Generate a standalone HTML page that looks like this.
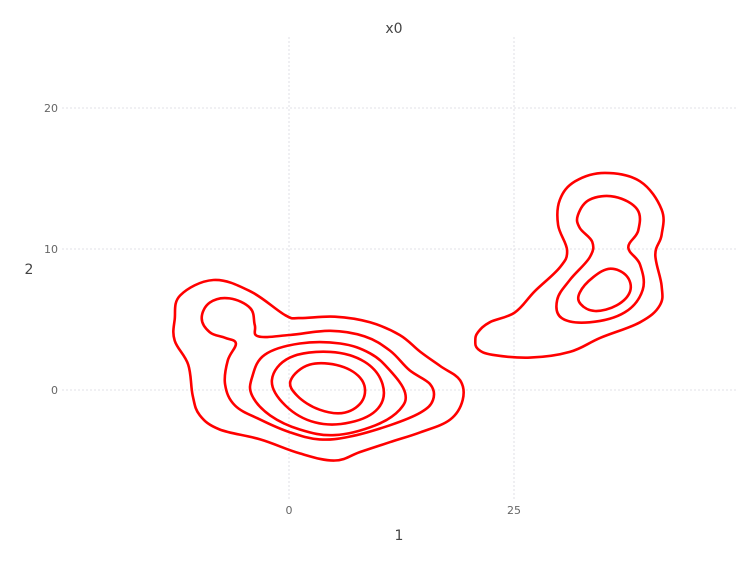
<!DOCTYPE html>
<html><head><meta charset="utf-8"><style>
html,body{margin:0;padding:0;background:#fff;}
svg text{font-family:"DejaVu Sans","Liberation Sans",sans-serif;}
</style></head><body>
<svg id="chart" width="756" height="567" xmlns="http://www.w3.org/2000/svg">
<g id="grid"></g>
<g id="ticks"></g>
<g id="contours"></g>
<text x="394" y="33" font-size="14" fill="#444" text-anchor="middle">x0</text>
<text x="29" y="274" font-size="14" fill="#444" text-anchor="middle">2</text>
<text x="399" y="540" font-size="14" fill="#444" text-anchor="middle">1</text>
</svg>
<script>
const xTicks=[0,25];
const yTicks=[0,10,20];
const contourA=[[-12.7,5.0],[-12.1,6.7],[-8.4,7.8],[-4.3,7.0],[-0.4,5.3],[1.2,5.1],[5.1,5.2],[9.0,4.8],[12.3,3.9],[14.6,2.7],[16.8,1.7],[19.0,0.7],[19.3,-0.7],[17.9,-2.1],[14.6,-3.0],[11.2,-3.7],[7.9,-4.4],[5.1,-5.0],[1.2,-4.5],[-3.2,-3.5],[-7.7,-2.8],[-9.9,-1.8],[-10.7,-0.4],[-11.2,1.8],[-12.7,3.5]];
const contourB=[[-9.7,5.1],[-8.8,6.2],[-6.6,6.5],[-4.3,5.8],[-3.8,4.6],[-3.4,3.8],[0.1,3.9],[4.6,4.2],[8.4,3.8],[11.2,2.8],[13.4,1.4],[15.7,0.4],[16.0,-0.7],[14.6,-1.6],[11.2,-2.5],[6.8,-3.3],[3.4,-3.5],[0.1,-3.0],[-3.2,-2.1],[-6.0,-1.1],[-7.1,0.4],[-6.8,2.1],[-5.9,3.3],[-7.1,3.7],[-8.8,4.1]];
const contourC=[[-4.1,0.9],[-2.7,2.5],[1.2,3.3],[5.7,3.3],[9.0,2.6],[11.2,1.4],[12.9,-0.2],[12.3,-1.4],[9.6,-2.5],[5.1,-3.2],[1.2,-2.8],[-2.1,-1.8],[-4.1,-0.4]];
const contourD=[[-1.9,0.7],[0.1,2.3],[4.6,2.7],[8.4,2.0],[10.4,0.4],[9.9,-1.3],[6.8,-2.3],[2.9,-2.3],[-0.4,-1.1]];
const contourE=[[0.2,0.7],[2.3,1.8],[5.7,1.7],[8.1,0.7],[8.2,-0.7],[6.2,-1.6],[3.4,-1.4],[0.9,-0.4]];
const contourF=[[21.0,4.1],[22.3,4.8],[25.1,5.5],[27.3,7.0],[30.1,8.7],[30.9,9.9],[29.9,11.7],[30.1,13.5],[31.8,14.8],[35.1,15.4],[39.0,14.8],[41.4,12.8],[41.4,11.0],[40.7,9.6],[41.4,7.4],[41.2,6.0],[39.0,4.8],[34.6,3.7],[31.2,2.7],[26.8,2.3],[22.6,2.5],[21.0,2.9],[20.7,3.5]];
const contourG=[[32.1,12.4],[33.4,13.5],[36.2,13.7],[38.7,12.8],[38.8,11.3],[37.7,10.1],[39.0,8.9],[39.3,7.1],[37.3,5.5],[33.4,4.8],[30.3,5.1],[29.8,6.4],[31.2,7.8],[33.4,9.4],[33.7,10.5],[32.3,11.5]];
const contourH=[[32.3,6.9],[33.8,8.0],[35.7,8.6],[37.5,8.1],[37.9,7.0],[36.4,6.0],[34.0,5.6],[32.4,6.1]];
const contours=[contourA,contourB,contourC,contourD,contourE,contourF,contourG,contourH];

const X0=289,XS=9,Y0=390,YS=14.1;
function sx(v){return X0+v*XS;}
function sy(v){return Y0-v*YS;}
const NS="http://www.w3.org/2000/svg";
const grid=document.getElementById('grid'),ticks=document.getElementById('ticks'),cg=document.getElementById('contours');
xTicks.forEach(t=>{
  const l=document.createElementNS(NS,'line');
  
  
  l.setAttribute('x1',sx(t));l.setAttribute('x2',sx(t));l.setAttribute('y1',37);l.setAttribute('y2',500);
  l.setAttribute('stroke','#d8d8e0');l.setAttribute('stroke-width','0.8');l.setAttribute('stroke-dasharray','2,2');
  grid.appendChild(l);
  const tx=document.createElementNS(NS,'text');
  
  
  tx.setAttribute('x',sx(t));tx.setAttribute('y',514);tx.setAttribute('font-size','11');tx.setAttribute('fill','#666');tx.setAttribute('text-anchor','middle');
  tx.textContent=t;ticks.appendChild(tx);
});
yTicks.forEach(t=>{
  const l=document.createElementNS(NS,'line');
  
  
  l.setAttribute('x1',62);l.setAttribute('x2',736);l.setAttribute('y1',sy(t));l.setAttribute('y2',sy(t));
  l.setAttribute('stroke','#d8d8e0');l.setAttribute('stroke-width','0.8');l.setAttribute('stroke-dasharray','2,2');
  grid.appendChild(l);
  const tx=document.createElementNS(NS,'text');
  
  
  tx.setAttribute('x',58);tx.setAttribute('y',sy(t)+4);tx.setAttribute('font-size','11');tx.setAttribute('fill','#666');tx.setAttribute('text-anchor','end');
  tx.textContent=t;ticks.appendChild(tx);
});
function closedPath(pts){
  const p=pts.map(d=>[sx(d[0]),sy(d[1])]);const n=p.length;
  let s='M'+p[0][0].toFixed(1)+','+p[0][1].toFixed(1);
  for(let i=0;i<n;i++){
    const p0=p[(i-1+n)%n],p1=p[i],p2=p[(i+1)%n],p3=p[(i+2)%n];
    const c1=[p1[0]+(p2[0]-p0[0])/5.5,p1[1]+(p2[1]-p0[1])/5.5];
    const c2=[p2[0]-(p3[0]-p1[0])/5.5,p2[1]-(p3[1]-p1[1])/5.5];
    s+='C'+c1[0].toFixed(1)+','+c1[1].toFixed(1)+' '+c2[0].toFixed(1)+','+c2[1].toFixed(1)+' '+p2[0].toFixed(1)+','+p2[1].toFixed(1);
  }
  return s+'Z';
}
contours.forEach(c=>{
  const path=document.createElementNS(NS,'path');
  
  
  path.setAttribute('d',closedPath(c));path.setAttribute('fill','none');path.setAttribute('stroke','#ff0000');path.setAttribute('stroke-width','2.6');
  cg.appendChild(path);
});
</script>
</body></html>
